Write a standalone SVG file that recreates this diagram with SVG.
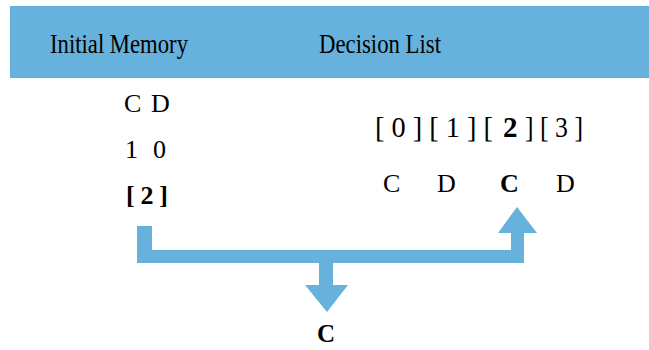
<svg xmlns="http://www.w3.org/2000/svg" width="649" height="350" viewBox="0 0 649 350">
<style>
.t{font-family:"Liberation Serif","Times New Roman",serif;fill:#000;font-size:26px}
.h{font-size:27px}
.r{font-size:29px}
.b{font-weight:bold}
.arr{fill:#67B1DD}
</style>
<rect width="649" height="350" fill="#fff"/>
<g id="header">
<rect x="10" y="6" width="639" height="72" fill="#67B1DD"/>
<text class="t h" x="50" y="53" textLength="138" lengthAdjust="spacingAndGlyphs">Initial Memory</text>
<text class="t h" x="319" y="53" textLength="122" lengthAdjust="spacingAndGlyphs">Decision List</text>
</g>
<g id="memory">
<text class="t" x="124" y="112">C</text>
<text class="t" x="151" y="112">D</text>
<text class="t" x="125" y="158">1</text>
<text class="t" x="153" y="158">0</text>
<text class="t b" x="126" y="204" textLength="42" lengthAdjust="spacing">[ 2 ]</text>
</g>
<g id="decision-list">
<text class="t r" x="375" y="137" textLength="118" lengthAdjust="spacingAndGlyphs">[ 0 ] [ 1 ] [</text>
<text class="t r b" x="503" y="137">2</text>
<text class="t r" x="525" y="137" textLength="58" lengthAdjust="spacingAndGlyphs">] [ 3 ]</text>
<text class="t" x="383" y="192">C</text>
<text class="t" x="437" y="192">D</text>
<text class="t b" x="500" y="192">C</text>
<text class="t" x="556" y="192">D</text>
</g>
<g id="connectors">
<path class="arr" d="M137,226 H152 V250 H511 V233 H498 L517,207 L537,233 H524 V263 H333 V285 H348 L327,312 L305,285 H319 V263 H137 Z"/>
</g>
<g id="result">
<text class="t b" x="326" y="342" text-anchor="middle" style="font-size:25px">C</text>
</g>
</svg>
